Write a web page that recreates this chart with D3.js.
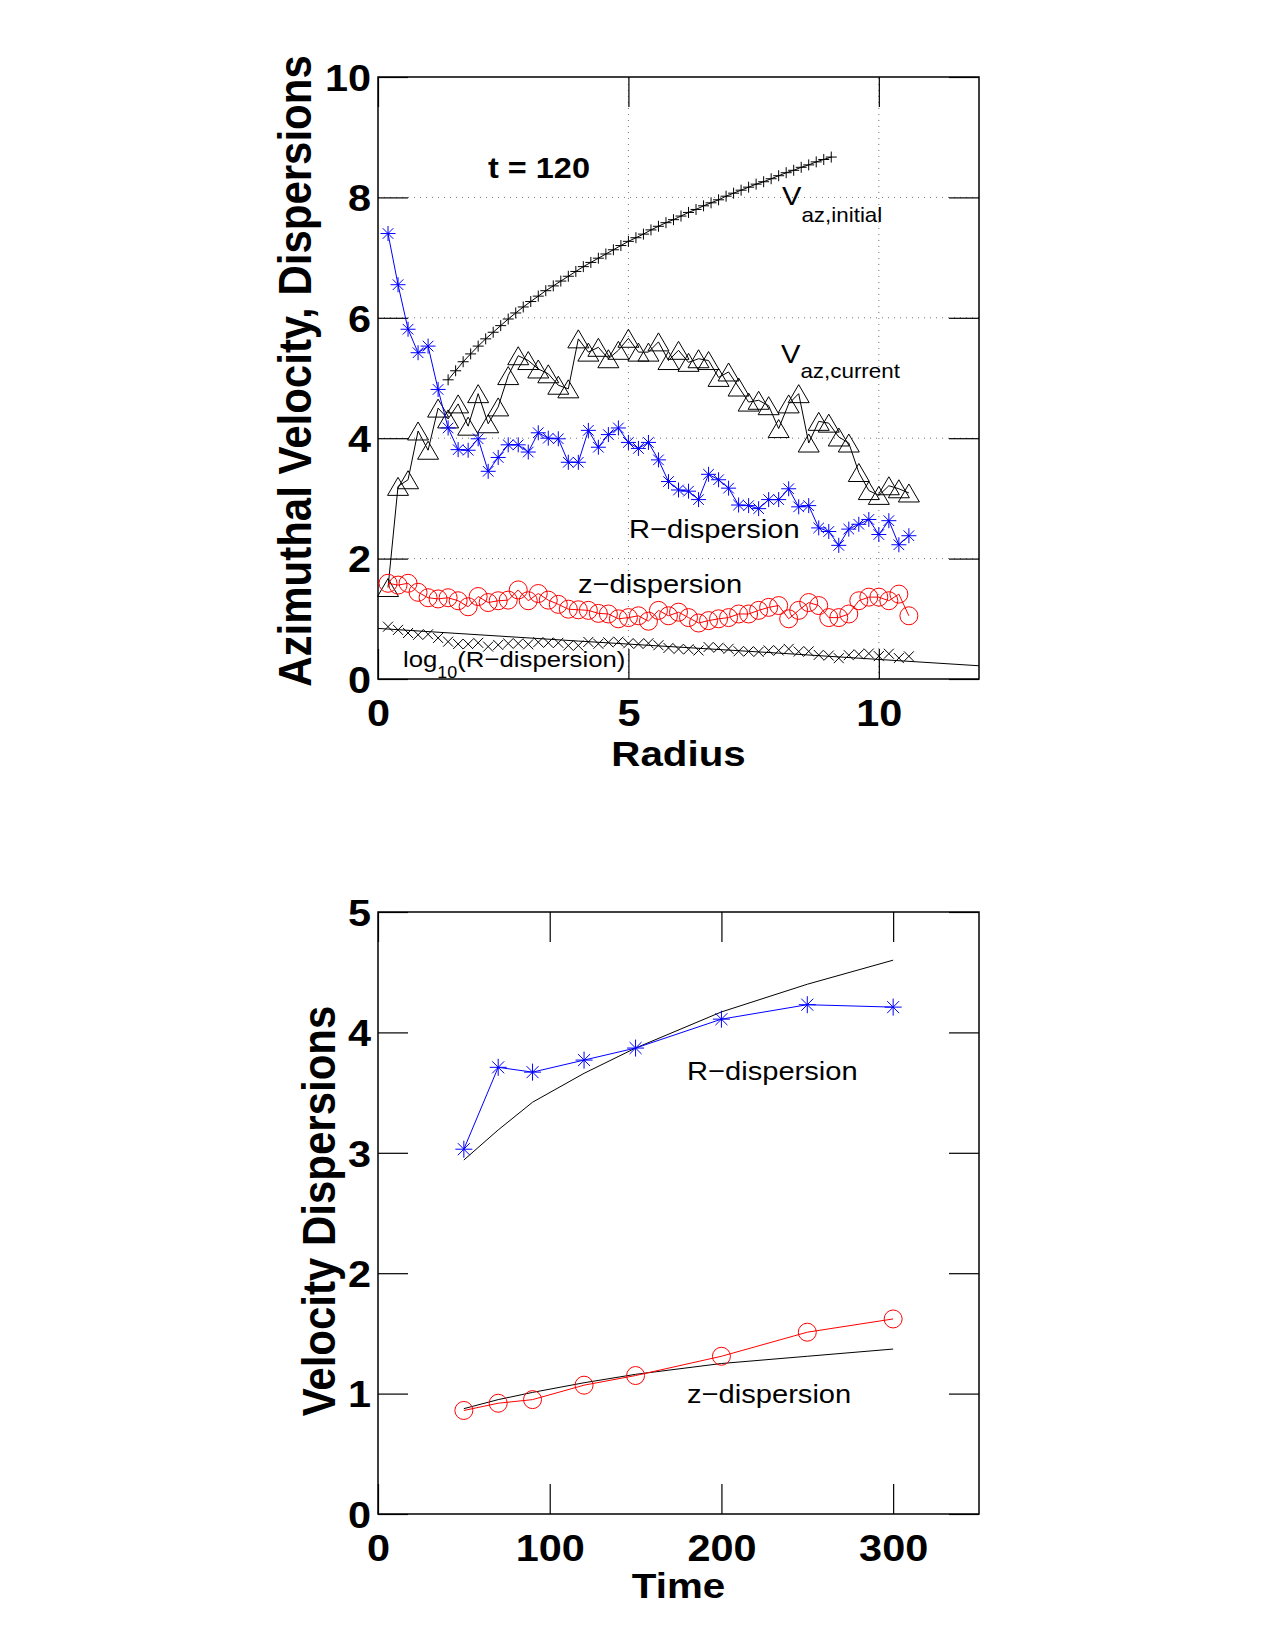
<!DOCTYPE html>
<html>
<head>
<meta charset="utf-8">
<script src="https://cdn.jsdelivr.net/npm/d3@7"></script>
<style>
  body { margin: 0; background: #fff; }
</style>
</head>
<body>
<script>
const FONT = '"Liberation Sans", Arial, Helvetica, sans-serif';
const SX = 1.12; // reference glyphs are a little wider than Liberation Sans

// ---- top panel: profiles against radius at t = 120 ----
const radius = [0.2, 0.4, 0.6, 0.8, 1.0, 1.2, 1.4, 1.6, 1.8, 2.0, 2.2, 2.4, 2.6, 2.8, 3.0, 3.2, 3.4, 3.6,
  3.8, 4.0, 4.2, 4.4, 4.6, 4.8, 5.0, 5.2, 5.4, 5.6, 5.8, 6.0, 6.2, 6.4, 6.6, 6.8, 7.0, 7.2, 7.4, 7.6,
  7.8, 8.0, 8.2, 8.4, 8.6, 8.8, 9.0, 9.2, 9.4, 9.6, 9.8, 10.0, 10.2, 10.4, 10.6];
const rDispersion = [7.40, 6.55, 5.81, 5.42, 5.53, 4.81, 4.17, 3.81, 3.80, 3.99, 3.45, 3.68, 3.89, 3.89,
  3.77, 4.09, 4.00, 3.99, 3.60, 3.60, 4.13, 3.85, 4.06, 4.17, 3.93, 3.83, 3.93, 3.64, 3.28, 3.14, 3.12,
  2.98, 3.40, 3.31, 3.17, 2.89, 2.88, 2.83, 2.98, 2.98, 3.16, 2.86, 2.88, 2.51, 2.45, 2.22, 2.49, 2.57,
  2.65, 2.40, 2.63, 2.23, 2.38];
const vazCurrent = [1.52, 3.20, 3.31, 4.12, 3.80, 4.50, 4.32, 4.57, 4.20, 4.74, 4.24, 4.52, 5.04, 5.37,
  5.29, 5.15, 5.07, 4.88, 4.82, 5.65, 5.43, 5.51, 5.32, 5.46, 5.66, 5.43, 5.43, 5.60, 5.29, 5.46, 5.26,
  5.32, 5.29, 5.01, 5.10, 4.85, 4.60, 4.63, 4.54, 4.16, 4.57, 4.74, 3.92, 4.28, 4.25, 4.02, 3.92, 3.43,
  3.13, 3.05, 3.21, 3.16, 3.09];
const zDispersion = [1.59, 1.56, 1.59, 1.44, 1.35, 1.33, 1.35, 1.30, 1.20, 1.37, 1.27, 1.30, 1.31, 1.48,
  1.30, 1.42, 1.31, 1.24, 1.16, 1.15, 1.14, 1.09, 1.08, 1.00, 1.02, 1.05, 0.96, 1.14, 1.05, 1.11, 1.02,
  0.93, 0.97, 1.00, 1.02, 1.08, 1.08, 1.14, 1.19, 1.22, 1.00, 1.14, 1.27, 1.22, 1.02, 1.02, 1.08, 1.30,
  1.36, 1.36, 1.30, 1.41, 1.05];
const logRDispersion = [0.869, 0.816, 0.764, 0.734, 0.743, 0.682, 0.620, 0.581, 0.580, 0.601, 0.538,
  0.566, 0.590, 0.590, 0.576, 0.612, 0.602, 0.601, 0.556, 0.556, 0.616, 0.585, 0.609, 0.620, 0.594,
  0.583, 0.594, 0.561, 0.516, 0.497, 0.494, 0.474, 0.531, 0.520, 0.501, 0.461, 0.459, 0.452, 0.474,
  0.474, 0.500, 0.456, 0.459, 0.400, 0.389, 0.346, 0.396, 0.410, 0.423, 0.380, 0.420, 0.348, 0.377];
const radiusInitial = [1.40, 1.55, 1.70, 1.85, 2.00, 2.15, 2.30, 2.45, 2.60, 2.75, 2.90, 3.05, 3.20, 3.35,
  3.50, 3.65, 3.80, 3.95, 4.10, 4.25, 4.40, 4.55, 4.70, 4.85, 5.00, 5.15, 5.30, 5.45, 5.60, 5.75, 5.90,
  6.05, 6.20, 6.35, 6.50, 6.65, 6.80, 6.95, 7.10, 7.25, 7.40, 7.55, 7.70, 7.85, 8.00, 8.15, 8.30, 8.45,
  8.60, 8.75, 8.90, 9.05];
const vazInitial = [4.97, 5.12, 5.27, 5.40, 5.53, 5.65, 5.76, 5.87, 5.98, 6.08, 6.18, 6.27, 6.36, 6.45,
  6.53, 6.61, 6.69, 6.77, 6.85, 6.92, 6.99, 7.06, 7.13, 7.20, 7.27, 7.33, 7.39, 7.46, 7.52, 7.58, 7.63,
  7.69, 7.75, 7.80, 7.86, 7.91, 7.96, 8.02, 8.07, 8.12, 8.17, 8.22, 8.26, 8.31, 8.36, 8.41, 8.45, 8.50,
  8.54, 8.59, 8.63, 8.67];
const radiusLogInitial = [0, 4, 8, 12];
const logInitial = [0.84, 0.63, 0.43, 0.22];
const radiusTicks = [0, 5, 10];
const velocityTicks = [0, 2, 4, 6, 8, 10];

// ---- bottom panel: dispersions against time ----
const times = [50, 70, 90, 120, 150, 200, 250, 300];
const rDispTime = [3.03, 3.71, 3.67, 3.77, 3.87, 4.11, 4.23, 4.21];
const rDispModel = [2.94, 3.19, 3.42, 3.66, 3.87, 4.17, 4.40, 4.60];
const zDispTime = [0.86, 0.92, 0.95, 1.07, 1.15, 1.31, 1.51, 1.62];
const zDispModel = [0.875, 0.95, 1.01, 1.09, 1.16, 1.25, 1.31, 1.37];
const timeTicks = [0, 100, 200, 300];
const dispersionTicks = [0, 1, 2, 3, 4, 5];

const svg = d3.select('body').append('svg')
  .attr('width', 1275)
  .attr('height', 1650)
  .attr('font-family', FONT);

// marker shapes, matlab style
const asterisk = s => {
  const d = s * 0.7071;
  return `M0,${-s}V${s}M${-s},0H${s}M${-d},${-d}L${d},${d}M${-d},${d}L${d},${-d}`;
};
const plus = s => `M0,${-s}V${s}M${-s},0H${s}`;
const cross = s => `M${-s},${-s}L${s},${s}M${-s},${s}L${s},${-s}`;
const triangle = (w, h) => `M0,${-h}L${w},${h}L${-w},${h}Z`;

function label(g, x, y, size, weight, anchor) {
  return g.append('text')
    .attr('transform', `translate(${x},${y}) scale(${SX},1)`)
    .attr('font-size', size)
    .attr('font-weight', weight)
    .attr('text-anchor', anchor || 'start')
    .attr('fill', '#000');
}

function drawFrame(x, y, xTicks, yTicks, grid) {
  const g = svg.append('g');
  const [x0, x1] = x.range();
  const [y0, y1] = y.range();

  if (grid) {
    g.selectAll('.gx').data(xTicks.slice(1)).enter().append('line')
      .attr('x1', d => x(d)).attr('x2', d => x(d))
      .attr('y1', y0).attr('y2', y1)
      .attr('stroke', '#777').attr('stroke-dasharray', '1,5');
    g.selectAll('.gy').data(yTicks.slice(1, -1)).enter().append('line')
      .attr('y1', d => y(d)).attr('y2', d => y(d))
      .attr('x1', x0).attr('x2', x1)
      .attr('stroke', '#777').attr('stroke-dasharray', '1,5');
  }

  const style = a => a
    .attr('font-family', FONT)
    .attr('font-size', 37)
    .attr('font-weight', 'bold')
    .call(s => s.select('.domain').remove())
    .call(s => s.selectAll('line').attr('stroke-width', 1.2));

  g.append('g').attr('transform', `translate(0,${y0})`)
    .call(d3.axisBottom(x).tickValues(xTicks).tickSizeInner(-30).tickSizeOuter(0).tickFormat(d3.format('d')))
    .call(style)
    .call(s => s.selectAll('text')
      .attr('y', 0).attr('dy', null)
      .attr('transform', `translate(0,47) scale(${SX},1)`));
  g.append('g').attr('transform', `translate(0,${y1})`)
    .call(d3.axisTop(x).tickValues(xTicks).tickSizeInner(-30).tickSizeOuter(0).tickFormat(''))
    .call(style);
  g.append('g').attr('transform', `translate(${x0},0)`)
    .call(d3.axisLeft(y).tickValues(yTicks).tickSizeInner(-30).tickSizeOuter(0).tickFormat(d3.format('d')))
    .call(style)
    .call(s => s.selectAll('text')
      .attr('x', 0).attr('dy', '0.36em')
      .attr('transform', `translate(-7,0) scale(${SX},1)`));
  g.append('g').attr('transform', `translate(${x1},0)`)
    .call(d3.axisRight(y).tickValues(yTicks).tickSizeInner(-30).tickSizeOuter(0).tickFormat(''))
    .call(style);

  g.append('rect')
    .attr('x', x0).attr('y', y1)
    .attr('width', x1 - x0).attr('height', y0 - y1)
    .attr('fill', 'none').attr('stroke', '#000').attr('stroke-width', 1.5);
  return g;
}

function series(g, x, y, xs, ys, color, marker, withLine, r) {
  const pts = xs.map((d, i) => [x(d), y(ys[i])]);
  if (withLine) {
    g.append('path')
      .attr('d', d3.line()(pts))
      .attr('fill', 'none').attr('stroke', color).attr('stroke-width', 1);
  }
  if (!marker) return;
  if (marker === 'circle') {
    g.selectAll(null).data(pts).enter().append('circle')
      .attr('cx', d => d[0]).attr('cy', d => d[1]).attr('r', r)
      .attr('fill', 'none').attr('stroke', color).attr('stroke-width', 1);
  } else {
    g.selectAll(null).data(pts).enter().append('path')
      .attr('transform', d => `translate(${d[0]},${d[1]})`)
      .attr('d', marker)
      .attr('fill', 'none').attr('stroke', color).attr('stroke-width', 1);
  }
}

// top panel
const xR = d3.scaleLinear().domain([0, 12]).range([378, 979]);
const yV = d3.scaleLinear().domain([0, 10]).range([679, 77]);
const topPanel = drawFrame(xR, yV, radiusTicks, velocityTicks, true);

series(topPanel, xR, yV, radiusInitial, vazInitial, '#000', plus(5.5), true);
series(topPanel, xR, yV, radius, vazCurrent, '#000', triangle(10.5, 9), true);
series(topPanel, xR, yV, radius, rDispersion, '#0000ff', asterisk(7.5), true);
series(topPanel, xR, yV, radius, zDispersion, '#ff0000', 'circle', true, 9);
series(topPanel, xR, yV, radiusLogInitial, logInitial, '#000', null, true);
series(topPanel, xR, yV, radius, logRDispersion, '#000', cross(5), false);

label(topPanel, 488, 178, 29, 'bold').text('t = 120');
const vi = label(topPanel, 782, 205, 26, 'normal');
vi.append('tspan').text('V');
vi.append('tspan').attr('dy', 17).attr('font-size', 20).text('az,initial');
const vc = label(topPanel, 781, 363, 26, 'normal');
vc.append('tspan').text('V');
vc.append('tspan').attr('dy', 15).attr('font-size', 20).text('az,current');
label(topPanel, 629, 538, 26, 'normal').text('R\u2212dispersion');
label(topPanel, 578, 593, 26, 'normal').text('z\u2212dispersion');
const lg = label(topPanel, 403, 667, 23, 'normal');
lg.append('tspan').text('log');
lg.append('tspan').attr('dy', 11).attr('font-size', 16).text('10');
lg.append('tspan').attr('dy', -11).text('(R\u2212dispersion)');

label(topPanel, 678.5, 766, 36, 'bold', 'middle').text('Radius');
topPanel.append('text')
  .attr('transform', `translate(311,371) scale(${SX},1) rotate(-90)`)
  .attr('font-size', 42).attr('font-weight', 'bold').attr('text-anchor', 'middle')
  .text('Azimuthal Velocity, Dispersions');

// bottom panel
const xT = d3.scaleLinear().domain([0, 350]).range([378, 979]);
const yD = d3.scaleLinear().domain([0, 5]).range([1514, 912]);
const bottomPanel = drawFrame(xT, yD, timeTicks, dispersionTicks, false);

series(bottomPanel, xT, yD, times, rDispModel, '#000', null, true);
series(bottomPanel, xT, yD, times, zDispModel, '#000', null, true);
series(bottomPanel, xT, yD, times, rDispTime, '#0000ff', asterisk(8.5), true);
series(bottomPanel, xT, yD, times, zDispTime, '#ff0000', 'circle', true, 9);

label(bottomPanel, 687, 1080, 26, 'normal').text('R\u2212dispersion');
label(bottomPanel, 687, 1403, 26, 'normal').text('z\u2212dispersion');

label(bottomPanel, 678.5, 1598, 36, 'bold', 'middle').text('Time');
bottomPanel.append('text')
  .attr('transform', `translate(335,1211) scale(${SX},1) rotate(-90)`)
  .attr('font-size', 42).attr('font-weight', 'bold').attr('text-anchor', 'middle')
  .text('Velocity Dispersions');
</script>
</body>
</html>
